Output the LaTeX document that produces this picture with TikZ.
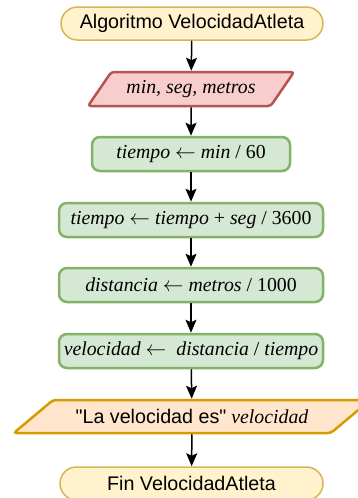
\documentclass[tikz,border=0pt]{standalone}
\usepackage{fontspec}
\setmainfont{Liberation Serif}
\setsansfont{Liberation Sans}
\usetikzlibrary{shapes.geometric,arrows.meta}
\definecolor{termfill}{HTML}{FFF2CC}
\definecolor{termline}{HTML}{D6B656}
\definecolor{infill}{HTML}{F8CECC}
\definecolor{inline}{HTML}{B85450}
\definecolor{procfill}{HTML}{D5E8D4}
\definecolor{procline}{HTML}{82B366}
\definecolor{outfill}{HTML}{FFE6CC}
\definecolor{outline}{HTML}{D79B00}
\newcommand{\asigna}{\ensuremath{\leftarrow}}

\begin{document}
\begin{tikzpicture}[x=1pt, y=-1pt,
  every node/.style={font=\fontsize{19.8}{22}\selectfont, inner sep=0pt},
  terminal/.style={draw=termline, fill=termfill, line width=1.5pt, rounded corners=16.5pt,
    minimum width=262pt, minimum height=33pt, font=\fontsize{19.7}{22}\selectfont\sffamily},
  proc/.style={draw=procline, fill=procfill, line width=2.5pt, rounded corners=8pt,
    minimum width=264pt, minimum height=34pt},
  inbox/.style={draw=inline, fill=infill, line width=2.5pt, rounded corners=3pt,
    trapezium, trapezium stretches=true, trapezium left angle=42.6, trapezium right angle=137.4,
    minimum width=206pt, minimum height=34pt},
  outbox/.style={draw=outline, fill=outfill, line width=2.5pt, rounded corners=3pt,
    trapezium, trapezium stretches=true, trapezium left angle=23.7, trapezium right angle=156.3,
    minimum width=357pt, minimum height=33pt},
  flow/.style={-{Stealth[length=13pt, width=11pt, inset=2.5pt]}, line width=1.5pt}]
\useasboundingbox (0,0) rectangle (358,498);
\node[terminal] (inicio) at (192, 23.5) {Algoritmo VelocidadAtleta};
\node[inbox] (leer) at (191, 89) {\textit{min, seg, metros}};
\node[proc, minimum width=198pt] (tmin) at (191, 154) {\textit{tiempo} \asigna{} \textit{min} / 60};
\node[proc] (tseg) at (191, 220) {\textit{tiempo} \asigna{} \textit{tiempo} + \textit{seg} / 3600};
\node[proc] (dist) at (191, 285) {\textit{distancia} \asigna{} \textit{metros} / 1000};
\node[proc] (vel) at (191, 351) {\textit{velocidad} \asigna~ \textit{distancia} / \textit{tiempo}};
\node[outbox] (escribir) at (192, 416.5) {{\fontsize{19.7}{22}\selectfont\sffamily\textquotedbl La velocidad es\textquotedbl} \textit{velocidad}};
\node[terminal, minimum width=263pt] (fin) at (191.5, 483.5) {Fin VelocidadAtleta};
\draw[flow] (inicio) -- (leer);
\draw[flow] (leer) -- (tmin);
\draw[flow] (tmin) -- (tseg);
\draw[flow] (tseg) -- (dist);
\draw[flow] (dist) -- (vel);
\draw[flow] (vel) -- (escribir);
\draw[flow] (escribir) -- (fin);
\end{tikzpicture}
\end{document}
